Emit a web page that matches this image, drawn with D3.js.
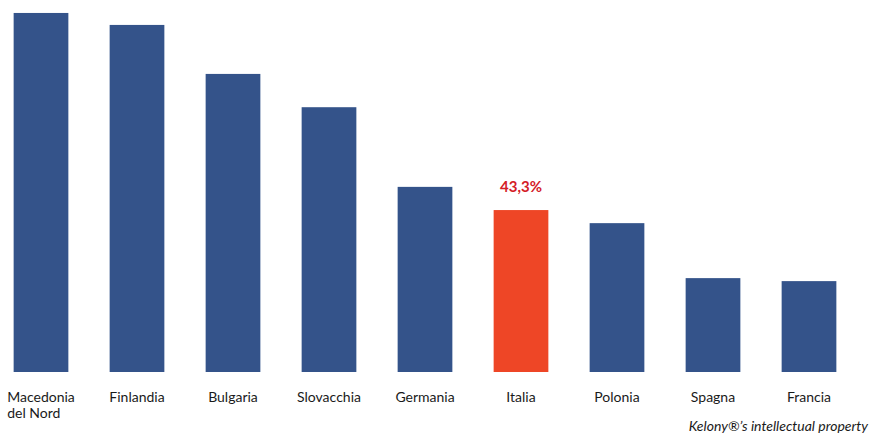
<!DOCTYPE html>
<html>
<head>
<meta charset="utf-8">
<script src="https://cdn.jsdelivr.net/npm/d3@7"></script>
<style>
  body { margin: 0; background: #fff; }
  svg text { font-family: Lato, "Noto Sans", sans-serif; }
</style>
</head>
<body>
<svg id="chart" width="870" height="434"></svg>
<script>
// data
var countries = ['Macedonia del Nord', 'Finlandia', 'Bulgaria', 'Slovacchia', 'Germania', 'Italia', 'Polonia', 'Spagna', 'Francia'];
var labelLines = [['Macedonia', 'del Nord'], ['Finlandia'], ['Bulgaria'], ['Slovacchia'], ['Germania'], ['Italia'], ['Polonia'], ['Spagna'], ['Francia']];
var values = [96.0, 92.8, 79.7, 70.8, 49.5, 43.3, 39.8, 25.1, 24.3];
var highlight = 'Italia';
var highlightLabel = '43,3%';

var svg = d3.select('#chart');

var xScale = d3.scaleBand().domain(countries).range([-7, 857]).paddingInner(0.43).paddingOuter(0.215);
var yScale = d3.scaleLinear().domain([0, 100]).range([372, -2]);

// bars
svg.selectAll('rect.bar').data(countries).enter().append('rect')
  .attr('class', 'bar')
  .attr('x', d => xScale(d))
  .attr('width', xScale.bandwidth())
  .attr('y', (d, i) => yScale(values[i]))
  .attr('height', (d, i) => yScale(0) - yScale(values[i]))
  .style('fill', d => d === highlight ? '#ee4626' : '#34538a');

// value label on highlighted bar
var hi = countries.indexOf(highlight);
svg.append('text')
  .attr('x', xScale(highlight) + xScale.bandwidth() / 2)
  .attr('y', yScale(values[hi]) - 18)
  .style('text-anchor', 'middle')
  .style('font-size', '15px')
  .style('font-weight', 'bold')
  .style('fill', '#d42027')
  .text(highlightLabel);

// category labels
countries.forEach(function(c, i){
  var cx = xScale(c) + xScale.bandwidth() / 2;
  var t = svg.append('text')
    .style('font-size', '14px')
    .style('fill', '#1a1a1a')
    .attr('y', 402);
  labelLines[i].forEach(function(line, j){
    t.append('tspan').attr('dy', j === 0 ? 0 : 16).text(line);
  });
  var w = t.select('tspan').node().getComputedTextLength();
  t.selectAll('tspan').attr('x', cx - w / 2);
});

// footer
svg.append('text')
  .attr('x', 868).attr('y', 431)
  .style('text-anchor', 'end')
  .style('font-size', '14px')
  .style('font-style', 'italic')
  .style('fill', '#1a1a1a')
  .text('Kelony®’s intellectual property');
</script>
</body>
</html>
